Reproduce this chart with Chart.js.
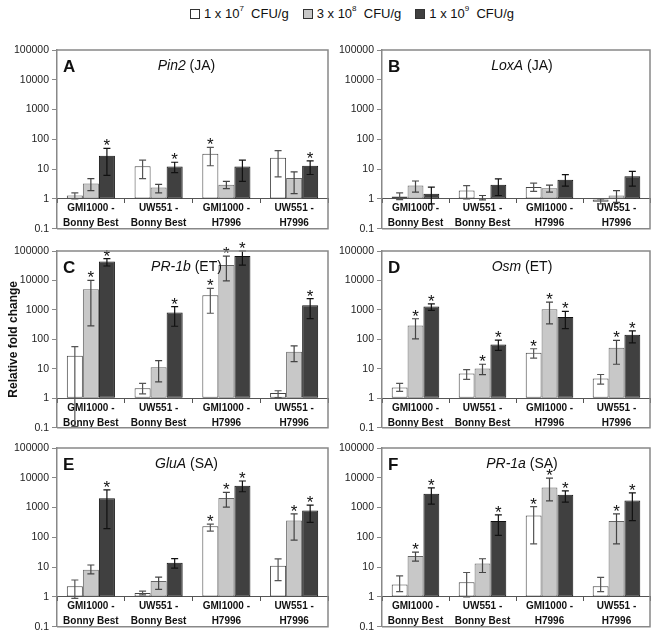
<!DOCTYPE html>
<html>
<head>
<meta charset="utf-8">
<script src="https://cdn.jsdelivr.net/npm/chart.js@4.4.1/dist/chart.umd.min.js"></script>
<style>
  body { margin: 0; background: #fff; font-family: "Liberation Sans", Arial, sans-serif; overflow: hidden; }
  #wrap { position: relative; width: 662px; height: 632px; overflow: hidden; }
  canvas { position: absolute; }
  #legend { position: absolute; left: 190px; top: 6px; font-size: 13px; line-height: 15px; color: #111; white-space: pre; display: flex; }
  #legend span.item { display: flex; align-items: center; margin-right: 14px; }
  #legend i.box { display: inline-block; width: 8px; height: 8px; border: 1px solid #333; margin-right: 4px; }
  sup { font-size: 8px; vertical-align: baseline; position: relative; top: -5px; }
</style>
</head>
<body>
<div id="wrap">
  <div id="legend">
    <span class="item"><i class="box" style="background:#ffffff"></i>1 x 10<sup>7</sup>  CFU/g</span>
    <span class="item"><i class="box" style="background:#c8c8c8"></i>3 x 10<sup>8</sup>  CFU/g</span>
    <span class="item"><i class="box" style="background:#404040"></i>1 x 10<sup>9</sup>  CFU/g</span>
  </div>
  <canvas id="cA" width="331" height="198" style="left:0;top:40px"></canvas>
  <canvas id="cB" width="331" height="198" style="left:331px;top:40px"></canvas>
  <canvas id="cC" width="331" height="196" style="left:0;top:241px"></canvas>
  <canvas id="cD" width="331" height="196" style="left:331px;top:241px"></canvas>
  <canvas id="cE" width="331" height="198" style="left:0;top:438px"></canvas>
  <canvas id="cF" width="331" height="198" style="left:331px;top:438px"></canvas>
</div>
<script>
// x categories and y ticks
var categories = [['GMI1000 -', 'Bonny Best'], ['UW551 -', 'Bonny Best'], ['GMI1000 -', 'H7996'], ['UW551 -', 'H7996']];
var yTicks = [0.1, 1, 10, 100, 1000, 10000, 100000];
var doses = ['1 x 10^7 CFU/g', '3 x 10^8 CFU/g', '1 x 10^9 CFU/g'];

// rows = doses, columns = categories
// A  Pin2 (JA)
var pin2Mean = [[1.3, 12.6, 33, 24], [3.3, 2.4, 3.0, 5.0], [28, 12.3, 12.3, 13]];
var pin2Low  = [[1.0, 4.8, 13, 5.5], [1.9, 1.6, 2.2, 1.5], [6.2, 7.6, 3.9, 6.6]];
var pin2High = [[1.6, 20, 54, 42], [4.8, 3.1, 3.9, 8.1], [50, 17, 20, 19]];
var pin2Sig  = [[0, 0, 1, 0], [0, 0, 0, 0], [1, 1, 0, 1]];

// B  LoxA (JA)
var loxaMean = [[1.2, 1.9, 2.5, 0.8], [2.8, 1.08, 2.3, 1.3], [1.5, 3.0, 4.4, 5.8]];
var loxaLow  = [[0.95, 1.0, 1.8, 0.68], [1.7, 0.93, 1.7, 0.77], [0.68, 1.3, 2.7, 2.7]];
var loxaHigh = [[1.6, 2.8, 3.4, 1.0], [4.0, 1.3, 2.9, 1.9], [2.5, 4.7, 6.5, 8.4]];
var loxaSig  = [[0, 0, 0, 0], [0, 0, 0, 0], [0, 0, 0, 0]];

// C  PR-1b (ET)
var pr1bMean = [[28, 2.2, 3150, 1.5], [5000, 11.3, 33500, 38], [44000, 810, 67000, 1440]];
var pr1bLow  = [[0.1, 1.4, 770, 1.05], [285, 3.6, 9600, 17.6], [31000, 278, 33000, 505]];
var pr1bHigh = [[57, 3.2, 5400, 1.8], [10000, 19, 67000, 60], [55000, 1290, 100000, 2400]];
var pr1bSig  = [[0, 0, 1, 0], [1, 0, 1, 0], [1, 1, 1, 1]];

// D  Osm (ET)
var osmMean = [[2.3, 6.9, 35, 4.7], [293, 10.2, 1060, 52], [1310, 67, 570, 142]];
var osmLow  = [[1.7, 4.4, 23, 3.0], [104, 6.3, 333, 14.3], [960, 42, 232, 76]];
var osmHigh = [[3.2, 9.4, 48, 6.4], [500, 14.3, 1830, 92], [1610, 94, 890, 194]];
var osmSig  = [[0, 0, 1, 0], [1, 1, 1, 1], [1, 1, 1, 1]];

// E  GluA (SA)
var gluaMean = [[2.3, 1.36, 235, 11.2], [8.2, 3.4, 2080, 365], [2040, 14.1, 5400, 800]];
var gluaLow  = [[0.9, 1.17, 163, 3.5], [5.9, 1.8, 1030, 81], [195, 9.3, 3400, 320]];
var gluaHigh = [[3.7, 1.56, 280, 18.9], [11.8, 4.6, 3240, 610], [3900, 19.4, 7800, 1200]];
var gluaSig  = [[0, 0, 1, 0], [0, 0, 1, 1], [1, 0, 1, 1]];

// F  PR-1a (SA)
var pr1aMean = [[2.6, 3.1, 540, 2.3], [23.5, 13.3, 4700, 355], [2900, 355, 2680, 1730]];
var pr1aLow  = [[1.5, 1.0, 60, 1.5], [15.9, 6.6, 1680, 60], [1300, 117, 1520, 365]];
var pr1aHigh = [[5.1, 6.6, 1080, 4.5], [32, 19.1, 9700, 610], [4600, 565, 3660, 3100]];
var pr1aSig  = [[0, 0, 1, 0], [1, 0, 1, 1], [1, 1, 1, 1]];

var fillColors = ['#ffffff', '#c8c8c8', '#404040'];
var edgeColors = ['#444444', '#666666', '#111111'];
var errColors = ['#555555', '#444444', '#111111'];
var FONT = '"Liberation Sans", Arial, sans-serif';

var panels = [
    {id: 'cA', letter: 'A', gene: 'Pin2', hormone: ' (JA)', mean: pin2Mean, low: pin2Low, high: pin2High, sig: pin2Sig, left: true},
    {id: 'cB', letter: 'B', gene: 'LoxA', hormone: ' (JA)', mean: loxaMean, low: loxaLow, high: loxaHigh, sig: loxaSig, left: false},
    {id: 'cC', letter: 'C', gene: 'PR-1b', hormone: ' (ET)', mean: pr1bMean, low: pr1bLow, high: pr1bHigh, sig: pr1bSig, left: true, ytitle: true},
    {id: 'cD', letter: 'D', gene: 'Osm', hormone: ' (ET)', mean: osmMean, low: osmLow, high: osmHigh, sig: osmSig, left: false},
    {id: 'cE', letter: 'E', gene: 'GluA', hormone: ' (SA)', mean: gluaMean, low: gluaLow, high: gluaHigh, sig: gluaSig, left: true},
    {id: 'cF', letter: 'F', gene: 'PR-1a', hormone: ' (SA)', mean: pr1aMean, low: pr1aLow, high: pr1aHigh, sig: pr1aSig, left: false}
];

// frame, error bars, asterisks and panel titles
var extras = {
    id: 'extras',
    afterDatasetsDraw: function(chart) {
        var p = chart.options.plugins.extras;
        var ys = chart.scales.y;
        var ctx = chart.ctx;
        var bottom = chart.chartArea.bottom;
        ctx.save();
        for (var d = 0; d < 3; d++) {
            var meta = chart.getDatasetMeta(d);
            for (var i = 0; i < meta.data.length; i++) {
                var x = meta.data[i].x;
                var yh = ys.getPixelForValue(p.high[d][i]);
                var yl = Math.min(ys.getPixelForValue(p.low[d][i]), bottom - 1);
                ctx.strokeStyle = errColors[d];
                ctx.lineWidth = 1.2;
                ctx.beginPath();
                ctx.moveTo(x, yh); ctx.lineTo(x, yl);
                ctx.moveTo(x - 3.5, yh); ctx.lineTo(x + 3.5, yh);
                ctx.moveTo(x - 3.5, yl); ctx.lineTo(x + 3.5, yl);
                ctx.stroke();
                if (p.sig[d][i]) {
                    ctx.fillStyle = '#111';
                    ctx.font = '17px ' + FONT;
                    ctx.textAlign = 'center';
                    ctx.textBaseline = 'alphabetic';
                    ctx.fillText('*', x, yh + 3);
                }
            }
        }
        ctx.restore();
    },
    afterDraw: function(chart) {
        var p = chart.options.plugins.extras;
        var a = chart.chartArea;
        var ctx = chart.ctx;
        ctx.save();
        ctx.strokeStyle = '#888';
        ctx.lineWidth = 1.5;
        ctx.beginPath();
        ctx.moveTo(a.left, a.top); ctx.lineTo(a.right, a.top);
        ctx.lineTo(a.right, a.bottom); ctx.lineTo(a.left, a.bottom);
        ctx.stroke();
        ctx.fillStyle = '#111';
        ctx.textBaseline = 'alphabetic';
        ctx.textAlign = 'left';
        ctx.font = 'bold 17px ' + FONT;
        ctx.fillText(p.letter, a.left + 6, a.top + 22);
        ctx.font = 'italic 14px ' + FONT;
        var w1 = ctx.measureText(p.gene).width;
        ctx.font = '14px ' + FONT;
        var w2 = ctx.measureText(p.hormone).width;
        var cx = (a.left + a.right) / 2 + (p.left ? -6 : 6);
        var x0 = cx - (w1 + w2) / 2;
        ctx.font = 'italic 14px ' + FONT;
        ctx.fillText(p.gene, x0, a.top + 20);
        ctx.font = '14px ' + FONT;
        ctx.fillText(p.hormone, x0 + w1, a.top + 20);
        ctx.restore();
    }
};

panels.forEach(function(p) {
    var datasets = [];
    for (var d = 0; d < 3; d++) {
        datasets.push({
            label: doses[d],
            data: p.mean[d],
            base: 1,
            backgroundColor: fillColors[d],
            borderColor: edgeColors[d],
            borderWidth: 1,
            borderSkipped: false,
            categoryPercentage: 0.71,
            barPercentage: 1.0
        });
    }
    var yw = p.left ? 57 : 51;
    new Chart(document.getElementById(p.id), {
        type: 'bar',
        data: {labels: categories, datasets: datasets},
        plugins: [extras],
        options: {
            responsive: false,
            animation: false,
            layout: {padding: {top: 10, bottom: 0, left: 0, right: p.left ? 3 : 12}},
            plugins: {
                legend: {display: false},
                tooltip: {enabled: false},
                extras: {letter: p.letter, gene: p.gene, hormone: p.hormone, low: p.low, high: p.high, sig: p.sig, left: p.left}
            },
            scales: {
                x: {
                    position: {y: 1},
                    grid: {offset: true, drawOnChartArea: false, tickLength: 4, color: '#555'},
                    border: {color: '#555', width: 1},
                    ticks: {
                        color: '#111', padding: -2, maxRotation: 0, autoSkip: false,
                        font: {family: FONT, size: 10, weight: 'bold', lineHeight: 1.5}
                    },
                    afterFit: function(s) { s.height = 0; }
                },
                y: {
                    type: 'logarithmic',
                    min: 0.1,
                    max: 100000,
                    afterBuildTicks: function(s) { s.ticks = yTicks.map(function(v) { return {value: v}; }); },
                    afterFit: function(s) { s.width = yw; },
                    grid: {drawOnChartArea: false, tickLength: 5, color: '#888'},
                    border: {color: '#888', width: 1.5},
                    ticks: {
                        color: '#222', padding: 3, autoSkip: false,
                        font: {family: FONT, size: 10.5},
                        callback: function(v) { return String(v); }
                    },
                    title: {
                        display: !!p.ytitle,
                        text: 'Relative fold change',
                        color: '#111',
                        font: {family: FONT, size: 12, weight: 'bold'},
                        padding: {top: 6, bottom: 0}
                    }
                }
            }
        }
    });
});
</script>
</body>
</html>
